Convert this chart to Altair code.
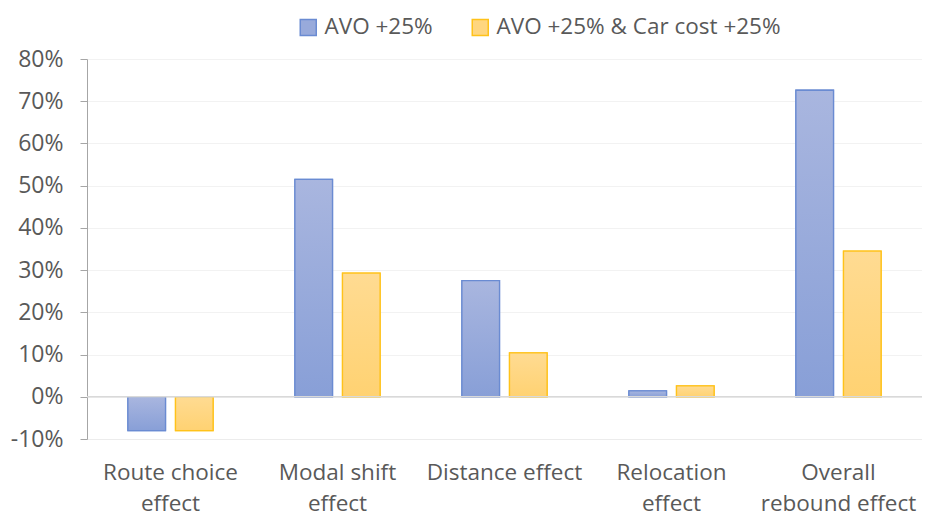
import altair as alt
import pandas as pd

categories = ["Route choice|effect", "Modal shift|effect", "Distance effect",
              "Relocation|effect", "Overall|rebound effect"]
series = ["AVO +25%", "AVO +25% & Car cost +25%"]
avo = [-0.08, 0.515, 0.275, 0.014, 0.726]
avo_cost = [-0.08, 0.293, 0.104, 0.026, 0.345]
y_ticks = [-0.1, 0.0, 0.1, 0.2, 0.3, 0.4, 0.5, 0.6, 0.7, 0.8]

rows = []
for c, a, b in zip(categories, avo, avo_cost):
    rows.append({"category": c, "series": series[0], "value": a})
    rows.append({"category": c, "series": series[1], "value": b})
df = pd.DataFrame(rows)

FONT = "Open Sans"
TXT = "#595959"

x_enc = alt.X("category:N", sort=categories,
              scale=alt.Scale(paddingInner=0.49, paddingOuter=0.245),
              axis=alt.Axis(title=None, labelExpr="split(datum.label, '|')",
                            labelAngle=0, ticks=False, domainColor="#ececec",
                            labelFontSize=22.5, labelColor=TXT, labelFont=FONT,
                            labelLineHeight=31, labelPadding=22, grid=False))
xo_enc = alt.XOffset("series:N", sort=series,
                     scale=alt.Scale(paddingInner=0.21, paddingOuter=0))
y_enc = alt.Y("value:Q", scale=alt.Scale(domain=[-0.1, 0.8], nice=False),
              axis=alt.Axis(title=None, values=y_ticks,
                            labelExpr="replace(format(datum.value, '.0%'), '\u2212', '-')",
                            labelFontSize=23, labelColor=TXT, labelFont=FONT,
                            domainColor="#a6a6a6", tickColor="#a6a6a6",
                            tickSize=7, labelPadding=17, grid=True,
                            gridColor="#f2f2f2"))

base = alt.Chart(df)

carrier = base.mark_bar(strokeWidth=1.3).encode(
    x=x_enc, xOffset=xo_enc, y=y_enc,
    fill=alt.Fill("series:N", sort=series,
                  scale=alt.Scale(domain=series, range=["#98aadb", "#ffd67f"]),
                  legend=alt.Legend(title=None)),
    stroke=alt.Stroke("series:N", sort=series,
                      scale=alt.Scale(domain=series, range=["#6a8bd2", "#ffc21a"]),
                      legend=alt.Legend(title=None)),
)

blue_grad = alt.Gradient(gradient="linear", x1=0, y1=0, x2=0, y2=1,
                         stops=[alt.GradientStop(color="#a9b6df", offset=0),
                                alt.GradientStop(color="#889fd7", offset=1)])
yellow_grad = alt.Gradient(gradient="linear", x1=0, y1=0, x2=0, y2=1,
                           stops=[alt.GradientStop(color="#ffdb92", offset=0),
                                  alt.GradientStop(color="#ffd272", offset=1)])

blue = base.transform_filter(alt.datum.series == series[0]).mark_bar(
    fill=blue_grad, stroke="#6a8bd2", strokeWidth=1.3).encode(
    x=x_enc, xOffset=xo_enc, y=y_enc)
yellow = base.transform_filter(alt.datum.series == series[1]).mark_bar(
    fill=yellow_grad, stroke="#ffc21a", strokeWidth=1.3).encode(
    x=x_enc, xOffset=xo_enc, y=y_enc)

zero = alt.Chart(pd.DataFrame({"z": [0.0]})).mark_rule(
    color="#d9d9d9", strokeWidth=1.5).encode(y=alt.Y("z:Q"))

chart = alt.layer(carrier, blue, yellow, zero).properties(
    width=835, height=380,
    autosize=alt.AutoSizeParams(type="none"),
    padding={"left": 79, "top": 51, "right": 0, "bottom": 84},
).configure_view(stroke=None).configure_legend(
    orient="none", legendX=210, legendY=-43, direction="horizontal",
    symbolType="square", symbolSize=256, symbolStrokeWidth=1.5,
    labelFontSize=22.5, labelFont=FONT, labelColor=TXT, labelOffset=5,
    labelLimit=400, columnPadding=36, padding=0,
)

chart.save("out.html", embed_options={"renderer": "svg", "actions": False})
